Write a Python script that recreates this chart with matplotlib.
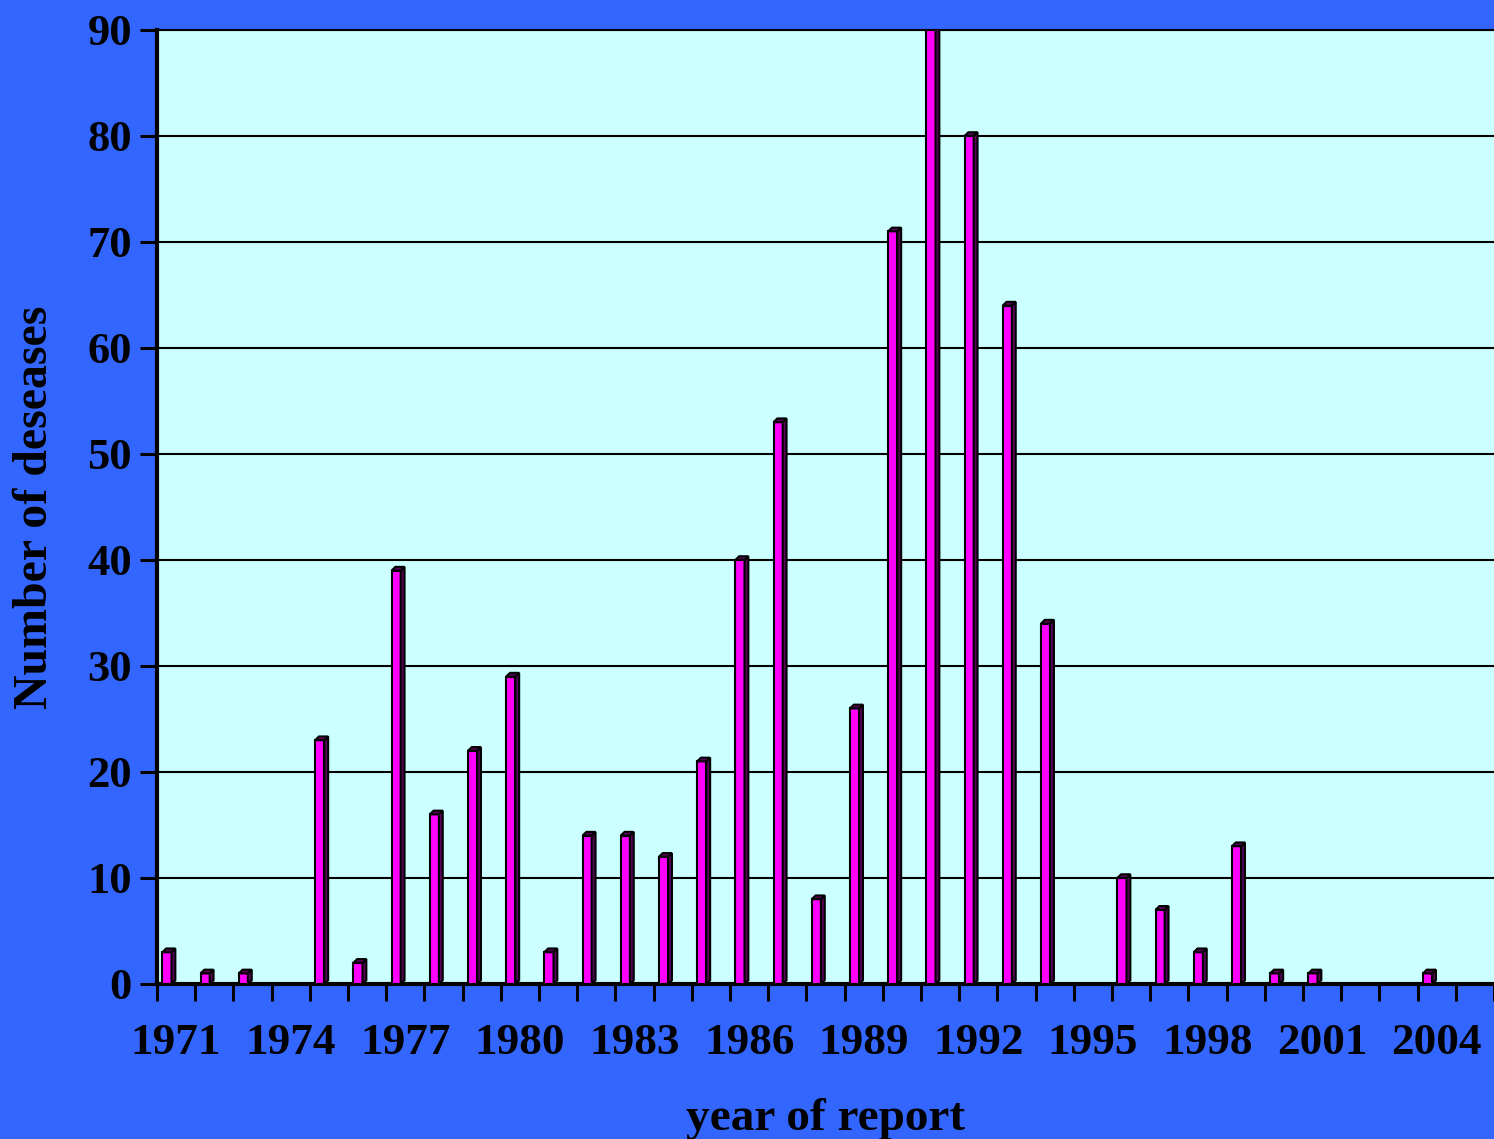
import matplotlib
matplotlib.use("Agg")
import matplotlib.pyplot as plt

# data
years = list(range(1971, 2006))
counts = [3, 1, 1, 0, 23, 2, 39, 16, 22, 29,
          3, 14, 14, 12, 21, 40, 53, 8, 26, 71,
          90, 80, 64, 34, 0, 10, 7, 3, 13, 1,
          1, 0, 0, 1, 0]
label_years = list(range(1971, 2005, 3))
yticks = list(range(0, 100, 10))

bg = "#3366FF"
face = "#CCFFFF"
front = "#FF00FF"
side = "#5A005A"

plt.rcParams["font.family"] = ["Liberation Serif", "DejaVu Serif"]
plt.rcParams["font.weight"] = "bold"

fig = plt.figure(figsize=(14.94, 11.39), dpi=100, facecolor=bg)
ax = fig.add_axes([0.1051, 0.1361, 0.8949, 0.8376])
ax.set_facecolor(face)

x = range(len(years))
w = 0.24        # front face width
d = 0.10        # depth
dy = 0.35       # vertical depth (data units)
for i, v in zip(x, counts):
    if v <= 0:
        continue
    l = i - 0.36
    r = l + w
    ax.fill([l, r, r, l], [0, 0, v, v], facecolor=front, edgecolor="black", lw=1.5, zorder=3)
    ax.fill([r, r + d, r + d, r], [0, dy, v + dy, v], facecolor=side, edgecolor="black", lw=1.5, zorder=3)
    ax.fill([l, r, r + d, l + d], [v, v, v + dy, v + dy], facecolor=side, edgecolor="black", lw=1.5, zorder=3)

ax.set_xlim(-0.5, len(years) - 0.5)
ax.set_ylim(0, 90)

# ticks on category boundaries, labels at centres
ax.set_xticks([i - 0.5 for i in range(len(years) + 1)])
ax.set_xticklabels([])
ax.set_xticks([years.index(y) for y in label_years], minor=True)
ax.set_xticklabels([str(y) for y in label_years], minor=True)
ax.tick_params(axis="x", which="major", length=12, width=2.2, direction="out")
ax.tick_params(axis="x", which="minor", length=0, pad=28, labelsize=32.5)
ax.set_yticks(yticks)
ax.tick_params(axis="y", length=12, width=2.2, direction="out", pad=6, labelsize=32)

ax.yaxis.grid(True, color="black", lw=1.5, zorder=1)
ax.set_axisbelow(True)

ax.spines["right"].set_visible(False)
ax.spines["top"].set_linewidth(1.5)
ax.spines["left"].set_linewidth(3)
ax.spines["bottom"].set_linewidth(3)

ax.set_xlabel("year of report", fontsize=34, fontweight="bold", labelpad=25)
ax.set_ylabel("Number of deseases", fontsize=34.5, fontweight="bold", labelpad=22)

plt.savefig("out.png", dpi=100, facecolor=bg)
